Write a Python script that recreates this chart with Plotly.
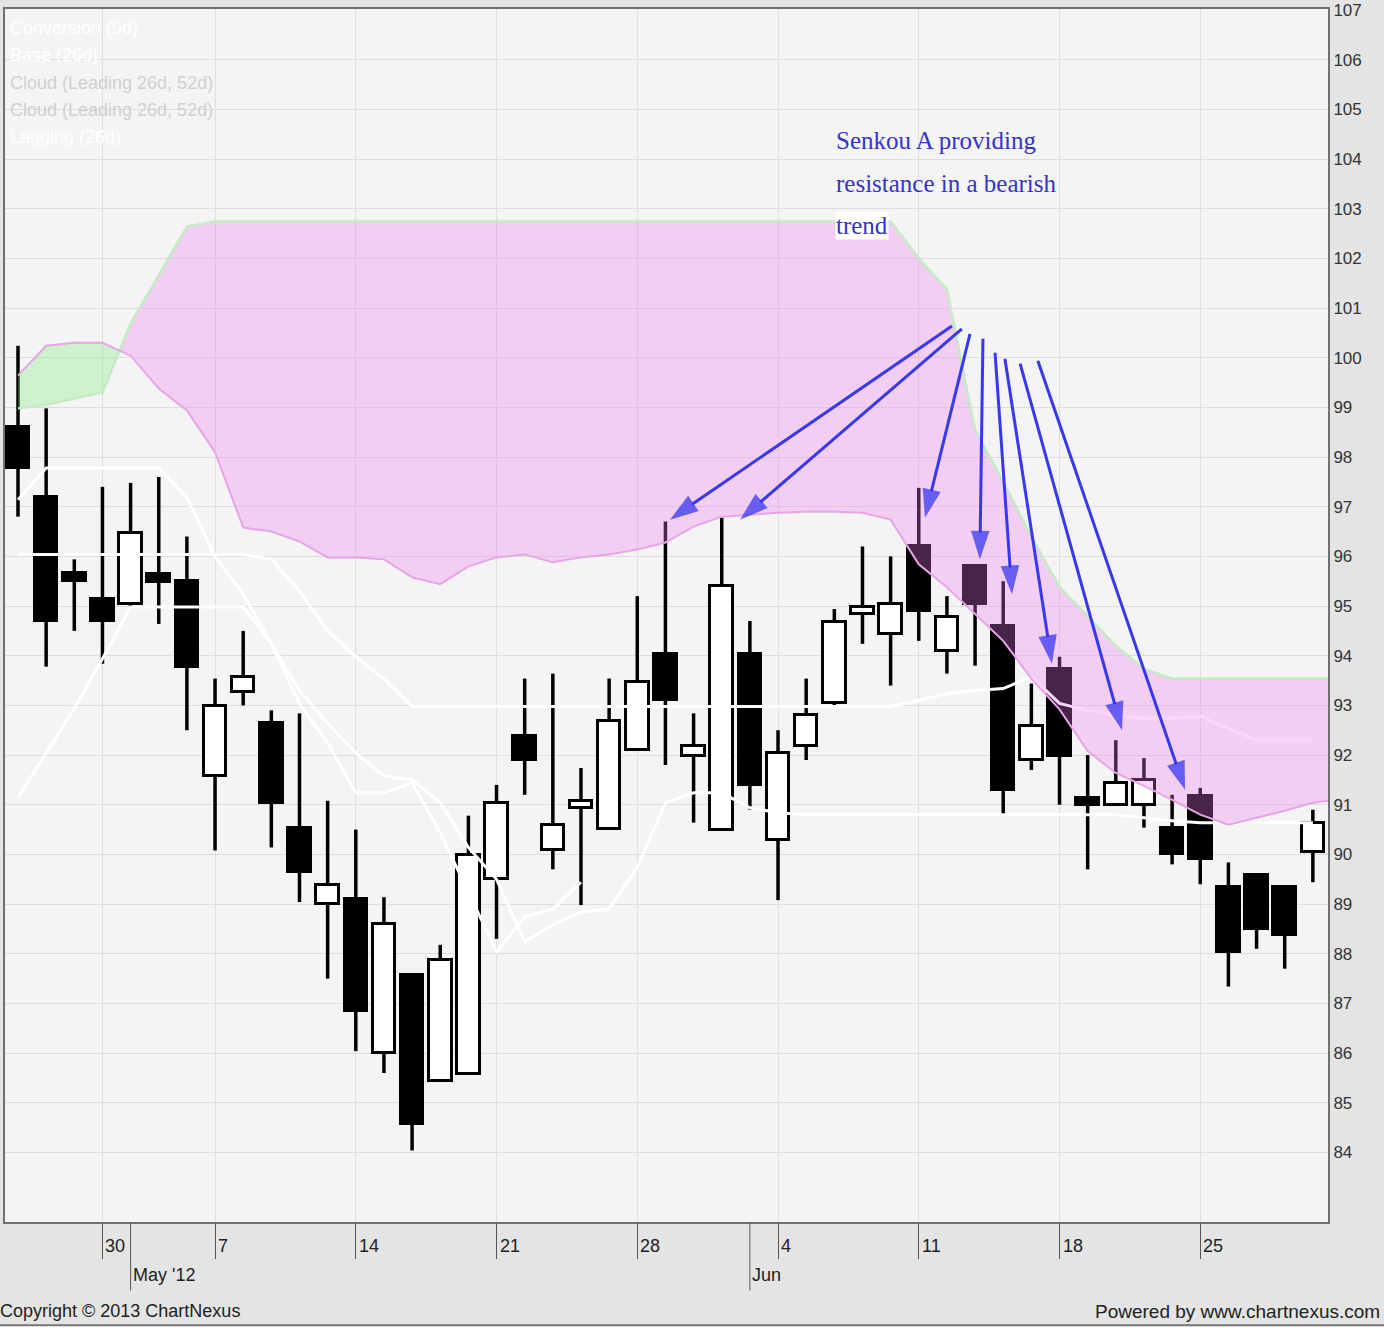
import plotly.graph_objects as go

# ---------------- data ----------------
OPEN = [98.6, 97.2, 95.66, 95.14, 95.04, 95.64, 95.5, 91.58, 93.28, 92.64,
        90.54, 89.0, 89.1, 86.0, 87.58, 85.44, 85.58, 89.5, 92.38, 90.08,
        90.94, 90.52, 92.1, 94.04, 91.98, 90.5, 94.04, 90.3, 92.18, 93.04,
        94.84, 94.44, 96.2, 94.1, 95.8, 94.6, 91.9, 93.74, 91.14, 91.0,
        91.0, 90.54, 91.18, 89.34, 89.58, 89.34, 90.04]
HIGH = [100.24, 98.98, 95.94, 97.4, 97.48, 97.6, 96.4, 93.54, 94.5, 92.9,
        92.84, 91.08, 90.5, 89.14, 87.58, 88.18, 90.78, 91.4, 93.54, 93.64,
        91.74, 93.54, 95.2, 96.7, 92.84, 96.78, 94.7, 92.5, 93.54, 94.94,
        96.2, 96.0, 97.38, 95.2, 95.84, 95.5, 93.44, 93.98, 92.0, 92.3,
        91.94, 91.2, 91.34, 89.84, 89.6, 89.38, 90.9]
LOW = [96.8, 93.78, 94.5, 93.84, 95.0, 94.64, 92.5, 90.08, 93.0, 90.14,
       89.04, 87.5, 86.04, 85.6, 84.04, 85.44, 85.58, 88.3, 91.2, 89.7,
       88.98, 90.52, 92.1, 91.8, 90.64, 90.5, 90.9, 89.08, 91.9, 93.0,
       94.24, 93.4, 94.3, 93.64, 93.8, 90.8, 91.7, 91.0, 89.7, 91.0,
       90.54, 89.8, 89.4, 87.34, 88.1, 87.7, 89.44]
CLOSE = [97.78, 94.7, 95.5, 94.7, 96.48, 95.48, 93.78, 92.98, 93.58, 91.04,
         89.64, 89.38, 86.84, 88.6, 84.58, 87.88, 89.98, 91.04, 91.9, 90.6,
         91.08, 92.68, 93.48, 93.1, 92.18, 95.4, 91.4, 92.04, 92.8, 94.68,
         94.98, 95.04, 94.9, 94.78, 95.04, 91.3, 92.58, 91.98, 91.0, 91.44,
         91.5, 90.0, 89.9, 88.04, 88.5, 88.38, 90.64]

# Leading spans (cloud), one more day than the candles
SENKOU_A = [99.64, 100.24, 100.3, 100.3, 100.04, 99.38, 98.94, 98.1, 96.58, 96.5,
            96.3, 95.98, 95.98, 95.94, 95.58, 95.44, 95.8, 95.98, 96.04, 95.88,
            95.98, 96.04, 96.14, 96.28, 96.6, 96.8, 96.84, 96.88, 96.9, 96.9,
            96.88, 96.74, 95.84, 95.38, 94.84, 94.3, 93.54, 92.92, 92.08, 91.64,
            91.38, 91.1, 90.8, 90.6, 90.74, 90.88, 91.04, 91.12]
SENKOU_B = [98.98, 99.05, 99.18, 99.3, 100.68, 101.66, 102.64, 102.74, 102.74, 102.74,
            102.74, 102.74, 102.74, 102.74, 102.74, 102.74, 102.74, 102.74, 102.74, 102.74,
            102.74, 102.74, 102.74, 102.74, 102.74, 102.74, 102.74, 102.74, 102.74, 102.74,
            102.74, 102.74, 102.0, 101.38, 98.54, 97.5, 96.4, 95.38, 94.8, 94.2,
            93.74, 93.54, 93.54, 93.54, 93.54, 93.54, 93.54, 93.54]

CONVERSION = [97.14, 97.78, 97.78, 97.78, 97.78, 97.78, 97.18, 96.0, 95.24, 94.24,
              93.3, 92.64, 92.04, 91.58, 91.5, 91.04, 90.14, 89.5, 88.24, 88.58,
              88.84, 88.9, 89.74, 91.04, 91.24, 91.24, 90.94, 90.84, 90.8, 90.8,
              90.8, 90.8, 90.8, 90.8, 90.8, 90.8, 90.8, 90.8, 90.8, 90.8,
              90.74, 90.68, 90.64, 90.64, 90.64, 90.64, 90.64]
BASE = [96.04, 96.04, 96.04, 96.04, 96.04, 96.04, 96.04, 96.04, 96.04, 95.94,
        95.3, 94.5, 93.98, 93.54, 92.98, 92.98, 92.98, 92.98, 92.98, 92.98,
        92.98, 92.98, 92.98, 92.98, 92.98, 92.98, 92.98, 92.98, 92.98, 92.98,
        92.98, 92.98, 93.1, 93.24, 93.3, 93.34, 93.58, 93.04, 92.9, 92.8,
        92.74, 92.74, 92.78, 92.54, 92.3, 92.3, 92.3]
LAGGING = [91.14, 92.04, 92.94, 93.94, 94.98, 94.98, 94.98, 94.98, 94.98, 94.24,
           93.04, 92.24, 91.24, 91.24, 91.44, 90.44, 89.24, 88.04, 88.74, 88.9,
           89.44]

WEEK_TICK_IDX = [3, 7, 12, 17, 22, 27, 32, 37, 42]
WEEK_TICK_TEXT = ["30", "7", "14", "21", "28", "4", "11", "18", "25"]
MONTH_IDX = [4, 26]
MONTH_TEXT = ["May '12", "Jun"]
Y_TICKS = list(range(84, 108))

LEGEND_TEXT = ["Conversion (9d)", "Base (26d)", "Cloud (Leading 26d, 52d)",
               "Cloud (Leading 26d, 52d)", "Lagging (26d)"]
LEGEND_COLORS = ["#ffffff", "#ffffff", "#d0d0d0", "#d0d0d0", "#ffffff"]

NOTE_LINES = ["Senkou A providing", "resistance in a bearish", "trend"]
NOTE_X = 29.02
NOTE_Y = [104.38, 103.5, 102.66]

# arrow tails -> heads (day index, price)
ARROW_TAIL_X = [33.18, 33.53, 33.82, 34.28, 34.71, 35.06, 35.6, 36.23]
ARROW_TAIL_Y = [100.64, 100.58, 100.48, 100.38, 100.1, 99.98, 99.88, 99.94]
ARROW_HEAD_X = [23.16, 25.65, 32.22, 34.17, 35.31, 36.73, 39.22, 41.46]
ARROW_HEAD_Y = [96.74, 96.74, 96.78, 95.94, 95.24, 93.84, 92.5, 91.3]

# ---------------- figure ----------------
N = len(OPEN)
idx = list(range(N))
fig = go.Figure()

# candle bodies
body_base = [min(o, c) for o, c in zip(OPEN, CLOSE)]
body_h = [max(abs(c - o), 0.04) for o, c in zip(OPEN, CLOSE)]
body_col = ["#000000" if c < o else "#ffffff" for o, c in zip(OPEN, CLOSE)]
fig.add_trace(go.Bar(x=idx, y=body_h, base=body_base, width=0.8,
                     marker=dict(color=body_col, line=dict(color="#000000", width=3)),
                     hoverinfo="skip"))

# wicks (upper and lower parts, so white bodies stay white)
wx, wy = [], []
for i, o, h, l, c in zip(idx, OPEN, HIGH, LOW, CLOSE):
    top, bot = max(o, c), min(o, c)
    if h > top:
        wx += [i, i, None]
        wy += [h, top, None]
    if l < bot:
        wx += [i, i, None]
        wy += [bot, l, None]
fig.add_trace(go.Scatter(x=wx, y=wy, mode="lines",
                         line=dict(color="#000000", width=3.5), hoverinfo="skip"))

# white indicator lines
for series in (CONVERSION, BASE, LAGGING):
    fig.add_trace(go.Scatter(x=list(range(len(series))), y=series, mode="lines",
                             line=dict(color="#ffffff", width=3), hoverinfo="skip"))


# cloud, split where the spans cross
def split_cloud(a, b):
    xs = list(range(len(a)))
    segs = []
    sign = a[0] >= b[0]
    cur = [(xs[0], a[0], b[0])]
    for k in range(1, len(xs)):
        s = a[k] >= b[k]
        if s != sign:
            d0 = a[k - 1] - b[k - 1]
            d1 = a[k] - b[k]
            t = d0 / (d0 - d1)
            xc = xs[k - 1] + t * (xs[k] - xs[k - 1])
            yc = a[k - 1] + t * (a[k] - a[k - 1])
            cur.append((xc, yc, yc))
            segs.append((sign, cur))
            cur = [(xc, yc, yc)]
            sign = s
        cur.append((xs[k], a[k], b[k]))
    segs.append((sign, cur))
    return segs


for bull, seg in split_cloud(SENKOU_A, SENKOU_B):
    px_ = [p[0] for p in seg] + [p[0] for p in reversed(seg)]
    py_ = [p[1] for p in seg] + [p[2] for p in reversed(seg)]
    fig.add_trace(go.Scatter(
        x=px_, y=py_, mode="lines", fill="toself",
        fillcolor="rgba(120,240,120,0.30)" if bull else "rgba(238,120,238,0.30)",
        line=dict(width=0), hoverinfo="skip"))

fig.add_trace(go.Scatter(x=list(range(len(SENKOU_B))), y=SENKOU_B, mode="lines",
                         line=dict(color="#c4ebc4", width=2.5), hoverinfo="skip"))
fig.add_trace(go.Scatter(x=list(range(len(SENKOU_A))), y=SENKOU_A, mode="lines",
                         line=dict(color="#e8a4e8", width=2), hoverinfo="skip"))

# arrows
for tx, ty, hx, hy in zip(ARROW_TAIL_X, ARROW_TAIL_Y, ARROW_HEAD_X, ARROW_HEAD_Y):
    fig.add_trace(go.Scatter(
        x=[tx, hx], y=[ty, hy], mode="lines+markers",
        line=dict(color="#3838ee", width=3),
        marker=dict(symbol="arrow", size=[0, 30], angleref="previous",
                    color="#2e2ef4", line=dict(width=0)),
        hoverinfo="skip"))

# annotation text
for k, (txt, yy) in enumerate(zip(NOTE_LINES, NOTE_Y)):
    fig.add_annotation(x=NOTE_X, y=yy, xref="x", yref="y", text=txt,
                       showarrow=False, xanchor="left", yanchor="middle",
                       bgcolor="#ffffff" if k == 2 else None, borderpad=0,
                       font=dict(family="Liberation Serif, Times New Roman, serif",
                                 size=25, color="#3434c8"))

# legend-like texts top-left
for k, (txt, col) in enumerate(zip(LEGEND_TEXT, LEGEND_COLORS)):
    fig.add_annotation(x=0, y=1, xref="paper", yref="paper", text=txt,
                       showarrow=False, xanchor="left", yanchor="middle",
                       xshift=3, yshift=-(19 + 27.3 * k),
                       font=dict(family="Liberation Sans, Arial, sans-serif",
                                 size=18, color=col))

# x tick labels (right of the tick line)
for xi, txt in zip(WEEK_TICK_IDX, WEEK_TICK_TEXT):
    fig.add_annotation(x=xi, y=0, xref="x", yref="paper", text=txt,
                       showarrow=False, xanchor="left", yanchor="middle",
                       xshift=1, yshift=-24,
                       font=dict(family="Liberation Sans, Arial, sans-serif",
                                 size=18, color="#222222"))
for xi, txt in zip(MONTH_IDX, MONTH_TEXT):
    fig.add_shape(type="line", x0=xi, x1=xi, xref="x", y0=0, y1=-0.0565,
                  yref="paper", line=dict(color="#555555", width=1))
    fig.add_annotation(x=xi, y=0, xref="x", yref="paper", text=txt,
                       showarrow=False, xanchor="left", yanchor="middle",
                       xshift=0, yshift=-53,
                       font=dict(family="Liberation Sans, Arial, sans-serif",
                                 size=18, color="#222222"))

# footer
fig.add_annotation(x=-0.0053, y=0, xref="paper", yref="paper",
                   text="Copyright \u00a9 2013 ChartNexus", showarrow=False,
                   xanchor="left", yanchor="middle", yshift=-89,
                   font=dict(family="Liberation Sans, Arial, sans-serif",
                             size=18, color="#222222"))
fig.add_annotation(x=1.0408, y=0, xref="paper", yref="paper",
                   text="Powered by www.chartnexus.com", showarrow=False,
                   xanchor="right", yanchor="middle", yshift=-89,
                   font=dict(family="Liberation Sans, Arial, sans-serif",
                             size=19, color="#222222"))
fig.add_shape(type="rect", xref="paper", yref="paper", x0=-0.01, x1=1.05,
              y0=-0.0852, y1=-0.1, fillcolor="#ffffff", line=dict(width=0))
fig.add_shape(type="line", xref="paper", yref="paper", x0=-0.01, x1=1.05,
              y0=-0.0852, y1=-0.0852, line=dict(color="#777777", width=2))

fig.update_layout(
    width=1384, height=1331,
    margin=dict(l=5, r=56, t=1, b=109),
    paper_bgcolor="#e4e4e4", plot_bgcolor="#f4f4f4",
    showlegend=False, bargap=0,
    font=dict(family="Liberation Sans, Arial, sans-serif"),
)
fig.update_xaxes(range=[-0.462, 46.538], tickvals=WEEK_TICK_IDX,
                 showticklabels=False, ticks="outside", ticklen=35,
                 tickcolor="#555555", tickwidth=1,
                 showgrid=True, gridcolor="#dedede", gridwidth=1, zeroline=False,
                 showline=True, mirror=True, linecolor="#707070", linewidth=2)
fig.update_yaxes(side="right", range=[82.6, 107.02], tickvals=Y_TICKS,
                 ticks="", tickfont=dict(size=17, color="#333333"),
                 ticklabeloverflow="allow",
                 showgrid=True, gridcolor="#dedede", gridwidth=1, zeroline=False,
                 showline=True, mirror=True, linecolor="#707070", linewidth=2)

fig.write_html("out.html",
               config={"displayModeBar": False},
               post_script="document.body.style.margin='0px';"
                           "document.body.style.overflow='hidden';")
